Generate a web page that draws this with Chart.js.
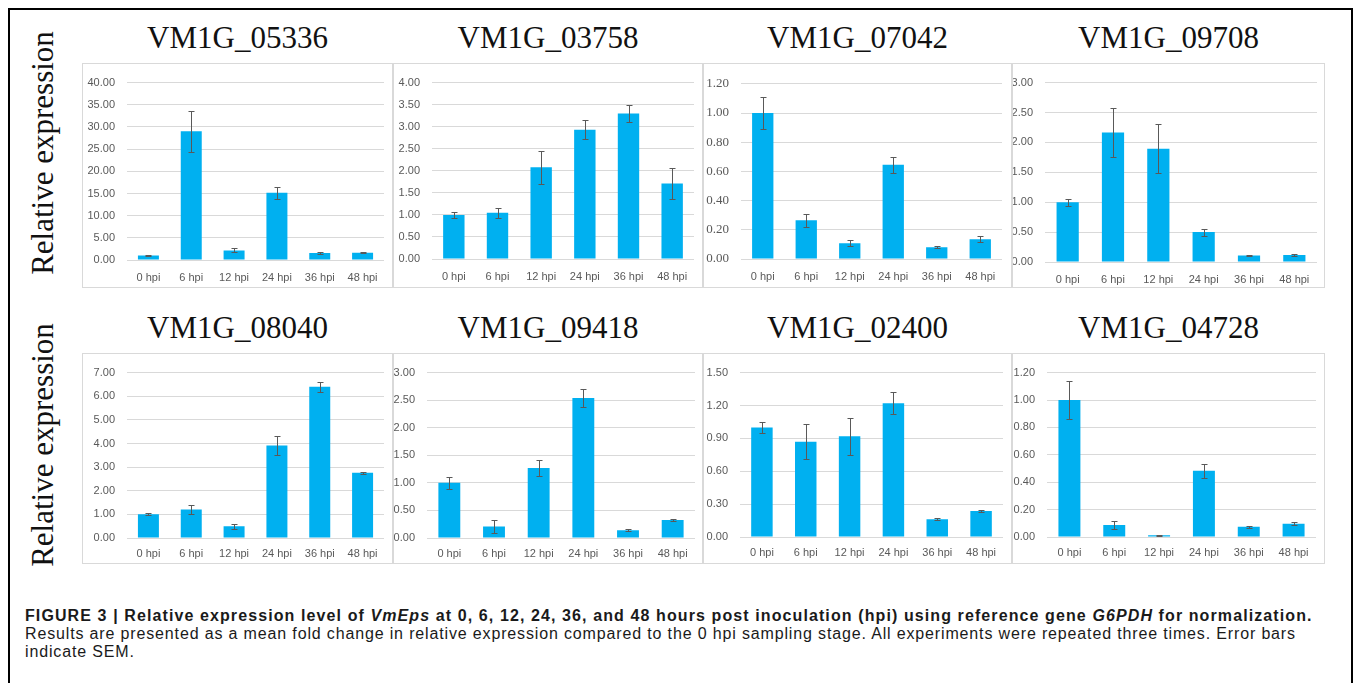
<!DOCTYPE html>
<html>
<head>
<meta charset="utf-8">
<script src="https://cdn.jsdelivr.net/npm/chart.js@4.4.0/dist/chart.umd.min.js"></script>
<style>
	body {
		margin: 0;
		width: 1358px;
		height: 683px;
		overflow: hidden;
		position: relative;
		background: #fff;
	}
	#frame {
		position: absolute;
		left: 8px;
		top: 8px;
		width: 1341px;
		height: 720px;
		border: 2px solid #000;
		border-bottom: none;
	}
	.box {
		position: absolute;
		box-sizing: border-box;
		border: 1px solid #d9d9d9;
		background: #fff;
	}
	.box canvas {
		display: block;
	}
	.title {
		position: absolute;
		font-family: "Liberation Serif", serif;
		font-size: 31px;
		line-height: 36px;
		color: #111;
		text-align: center;
		white-space: nowrap;
	}
	.ylab {
		position: absolute;
		font-family: "Liberation Serif", serif;
		font-size: 31px;
		color: #111;
		white-space: nowrap;
		transform: translate(-50%, -50%) rotate(-90deg);
	}
	.cap {
		position: absolute;
		left: 25px;
		font-family: "Liberation Sans", Arial, sans-serif;
		font-size: 16px;
		line-height: 18px;
		color: #1a1a1a;
		white-space: nowrap;
	}
</style>
</head>
<body>
<div id="frame"></div>
<script>
const hours = [ '0 hpi', '6 hpi', '12 hpi', '24 hpi', '36 hpi', '48 hpi' ];

const genes = [
	'VM1G_05336', 'VM1G_03758', 'VM1G_07042', 'VM1G_09708',
	'VM1G_08040', 'VM1G_09418', 'VM1G_02400', 'VM1G_04728'
];

// mean relative expression and SEM, one pair per gene
const mean05336 = [ 1.00, 29.05, 2.15, 15.15, 1.58, 1.62 ];
const sem05336 = [ 0.12, 4.60, 0.45, 1.40, 0.12, 0.15 ];

const mean03758 = [ 1.00, 1.05, 2.08, 2.93, 3.30, 1.71 ];
const sem03758 = [ 0.06, 0.11, 0.38, 0.22, 0.20, 0.35 ];

const mean07042 = [ 1.00, 0.265, 0.108, 0.645, 0.080, 0.136 ];
const sem07042 = [ 0.11, 0.043, 0.020, 0.053, 0.008, 0.020 ];

const mean09708 = [ 1.00, 2.165, 1.895, 0.50, 0.107, 0.115 ];
const sem09708 = [ 0.06, 0.41, 0.41, 0.06, 0.012, 0.012 ];

const mean08040 = [ 1.00, 1.21, 0.50, 3.91, 6.40, 2.76 ];
const sem08040 = [ 0.04, 0.20, 0.11, 0.39, 0.20, 0.05 ];

const mean09418 = [ 1.00, 0.21, 1.27, 2.54, 0.14, 0.325 ];
const sem09418 = [ 0.11, 0.12, 0.14, 0.155, 0.015, 0.02 ];

const mean02400 = [ 1.00, 0.868, 0.92, 1.22, 0.163, 0.237 ];
const sem02400 = [ 0.05, 0.16, 0.17, 0.10, 0.008, 0.01 ];

const mean04728 = [ 1.00, 0.088, 0.012, 0.484, 0.074, 0.097 ];
const sem04728 = [ 0.14, 0.028, 0.003, 0.05, 0.009, 0.013 ];

const means = [ mean05336, mean03758, mean07042, mean09708, mean08040, mean09418, mean02400, mean04728 ];
const sems = [ sem05336, sem03758, sem07042, sem09708, sem08040, sem09418, sem02400, sem04728 ];

// y axis tick labels: max and step per panel
const axisMax = [ 40, 4, 1.2, 3, 7, 3, 1.5, 1.2 ];
const axisStep = [ 5, 0.5, 0.2, 0.5, 1, 0.5, 0.3, 0.2 ];

// ---- layout (box position and plot insets), left to right, top row first
const boxes = [
	[ 82, 63, 311, 225 ], [ 393, 63, 310, 225 ], [ 703, 63, 309, 225 ], [ 1012, 63, 313, 225 ],
	[ 82, 353, 311, 211 ], [ 393, 353, 310, 211 ], [ 703, 353, 309, 211 ], [ 1012, 353, 313, 211 ]
];
// left, right, top, bottom insets of the gridded area inside each box
const insets = [
	[ 45, 8, 12, 28 ], [ 39, 8, 12, 29 ], [ 38, 9, 11, 29 ], [ 33, 7, 12, 26 ],
	[ 45, 8, 10, 26 ], [ 34, 7, 10, 26 ], [ 37, 8, 10, 27 ], [ 35, 8, 11, 27 ]
];
const titleY = [ 38, 328 ];
const ylabY = [ 153, 445 ];

const BAR = '#00B0F0';
const GRID = '#d9d9d9';
const TICK = '#595959';
const SANS = '"Liberation Sans", Arial, sans-serif';
const SERIF = '"Liberation Serif", serif';

// error bars through the y scale
const errorBars = {
	id: 'errorBars',
	afterDatasetsDraw( chart, args, opts ) {
		const ctx = chart.ctx;
		const y = chart.scales.y;
		const meta = chart.getDatasetMeta( 0 );
		const vals = chart.data.datasets[ 0 ].data;
		ctx.save();
		ctx.strokeStyle = '#595959';
		ctx.lineWidth = 1;
		opts.sem.forEach( ( e, i ) => {
			const px = Math.round( meta.data[ i ].x ) + 0.5;
			const top = Math.round( y.getPixelForValue( vals[ i ] + e ) ) + 0.5;
			const bot = Math.round( y.getPixelForValue( vals[ i ] - e ) ) + 0.5;
			ctx.beginPath();
			ctx.moveTo( px, top );
			ctx.lineTo( px, bot );
			ctx.moveTo( px - 3, top );
			ctx.lineTo( px + 3, top );
			ctx.moveTo( px - 3, bot );
			ctx.lineTo( px + 3, bot );
			ctx.stroke();
		} );
		ctx.restore();
	}
};

genes.forEach( ( gene, i ) => {
	const [ bx, by, bw, bh ] = boxes[ i ];
	const [ il, ir, it, ib ] = insets[ i ];
	const row = i < 4 ? 0 : 1;

	// ---- title
	const title = document.createElement( 'div' );
	title.className = 'title';
	title.style.left = bx + 'px';
	title.style.width = bw + 'px';
	title.style.top = ( titleY[ row ] - 18 ) + 'px';
	title.textContent = gene;
	document.body.appendChild( title );

	// ---- chart box
	const box = document.createElement( 'div' );
	box.className = 'box';
	box.style.left = bx + 'px';
	box.style.top = by + 'px';
	box.style.width = bw + 'px';
	box.style.height = bh + 'px';
	const canvas = document.createElement( 'canvas' );
	canvas.width = bw - 2;
	canvas.height = bh - 2;
	canvas.style.width = ( bw - 2 ) + 'px';
	canvas.style.height = ( bh - 2 ) + 'px';
	box.appendChild( canvas );
	document.body.appendChild( box );

	// the VM1G_07042 panel has serif y labels in the original
	const yFont = i === 2 ? { family: SERIF, size: 13 } : { family: SANS, size: 11 };

	new Chart( canvas.getContext( '2d' ), {
		type: 'bar',
		data: {
			labels: hours,
			datasets: [ {
				data: means[ i ],
				backgroundColor: BAR,
				borderWidth: 0,
				barPercentage: 0.49,
				categoryPercentage: 1
			} ]
		},
		options: {
			responsive: false,
			animation: false,
			devicePixelRatio: 1,
			layout: { padding: { left: 0, right: ir, top: it - 1, bottom: 0 } },
			plugins: {
				legend: { display: false },
				tooltip: { enabled: false },
				errorBars: { sem: sems[ i ] }
			},
			scales: {
				x: {
					grid: { display: false, drawTicks: false },
					border: { display: false },
					ticks: {
						color: TICK,
						font: { family: SANS, size: 11 },
						padding: row === 0 ? 11 : 9,
						maxRotation: 0,
						autoSkip: false
					},
					afterFit: ( s ) => { s.height = ib - 1; }
				},
				y: {
					min: 0,
					max: axisMax[ i ],
					grid: { color: GRID, drawTicks: false },
					border: { display: false },
					ticks: {
						stepSize: axisStep[ i ],
						color: TICK,
						font: yFont,
						padding: 12,
						callback: ( v ) => Number( v ).toFixed( 2 )
					},
					afterFit: ( s ) => { s.width = il - 1; }
				}
			}
		},
		plugins: [ errorBars ]
	} );
} );

// ---- vertical axis titles, one per row
ylabY.forEach( ( cy ) => {
	const lab = document.createElement( 'div' );
	lab.className = 'ylab';
	lab.style.left = '43px';
	lab.style.top = cy + 'px';
	lab.textContent = 'Relative expression';
	document.body.appendChild( lab );
} );

// ---- caption
const capLines = [
	'<b>FIGURE 3 | Relative expression level of <i>VmEps</i> at 0, 6, 12, 24, 36, and 48 hours post inoculation (hpi) using reference gene <i>G6PDH</i> for normalization.</b>',
	'Results are presented as a mean fold change in relative expression compared to the 0 hpi sampling stage. All experiments were repeated three times. Error bars',
	'indicate SEM.'
];
const capSpacing = [ 1.1, 0.85, 0.85 ];
capLines.forEach( ( html, k ) => {
	const line = document.createElement( 'div' );
	line.className = 'cap';
	line.style.top = ( 607 + k * 18 ) + 'px';
	line.style.letterSpacing = capSpacing[ k ] + 'px';
	line.innerHTML = html;
	document.body.appendChild( line );
} );
</script>
</body>
</html>
